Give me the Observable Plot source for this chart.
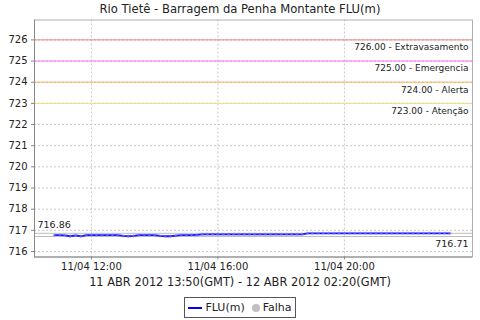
<!DOCTYPE html>
<html>
<head>
<meta charset="utf-8">
<script src="https://cdn.jsdelivr.net/npm/d3@7"></script>
<script src="https://cdn.jsdelivr.net/npm/@observablehq/plot@0.6"></script>
<style>
  html, body { margin: 0; padding: 0; background: #fff; }
  body { width: 480px; height: 320px; overflow: hidden; font-family: "DejaVu Sans", sans-serif; color: #222; }
  #title { height: 19px; line-height: 19px; text-align: center; font-size: 11.6px; }
  #chart svg { display: block; }
  #subtitle { height: 14px; line-height: 14px; text-align: center; font-size: 11.4px; }
  #legend { margin: 8px auto 0 auto; width: 110px; height: 19px; border: 1px solid #555; display: flex; align-items: center; justify-content: center; font-size: 11px; gap: 3px; box-sizing: content-box; }
  #legend .ln { display: inline-block; width: 14px; height: 2px; background: #0000ff; }
  #legend .dt { display: inline-block; width: 8px; height: 8px; border-radius: 50%; background: #c0c0c0; margin-left: 4px; }
</style>
</head>
<body>
<div id="title">Rio Tietê - Barragem da Penha Montante FLU(m)</div>
<div id="chart"></div>
<div id="subtitle">11 ABR 2012 13:50(GMT) - 12 ABR 2012 02:20(GMT)</div>
<div id="legend"><span class="ln"></span><span>FLU(m)</span><span class="dt"></span><span>Falha</span></div>
<script>
// Local times on 11/04/2012
const times = [
  "10:50","11:00","11:10","11:20","11:30","11:40","11:50",
  "12:00","12:10","12:20","12:30","12:40","12:50",
  "13:00","13:10","13:20","13:30","13:40","13:50",
  "14:00","14:10","14:20","14:30","14:40","14:50",
  "15:00","15:10","15:20","15:30","15:40","15:50",
  "16:00","16:10","16:20","16:30","16:40","16:50",
  "17:00","17:10","17:20","17:30","17:40","17:50",
  "18:00","18:10","18:20","18:30","18:40","18:50",
  "19:00","19:10","19:20","19:30","19:40","19:50",
  "20:00","20:10","20:20","20:30","20:40","20:50",
  "21:00","21:10","21:20","21:30","21:40","21:50",
  "22:00","22:10","22:20","22:30","22:40","22:50",
  "23:00","23:10","23:20"
];
const flu = [
  716.77,716.77,716.76,716.72,716.76,716.72,716.77,
  716.77,716.77,716.77,716.77,716.77,716.77,
  716.74,716.72,716.74,716.77,716.77,716.77,
  716.77,716.74,716.72,716.72,716.75,716.77,
  716.77,716.77,716.79,716.81,716.81,716.81,
  716.81,716.81,716.81,716.81,716.81,716.81,
  716.81,716.81,716.81,716.81,716.81,716.81,
  716.81,716.81,716.81,716.81,716.81,716.86,
  716.86,716.86,716.86,716.86,716.86,716.86,
  716.86,716.86,716.86,716.86,716.86,716.86,
  716.86,716.86,716.86,716.86,716.86,716.86,
  716.86,716.86,716.86,716.86,716.86,716.86,
  716.86,716.86,716.86
];
const maxValue = 716.86;
const minValue = 716.71;
const thresholds = [726, 725, 724, 723];
const thresholdNames = ["Extravasamento", "Emergencia", "Alerta", "Atenção"];
const thresholdColors = ["#e98484", "#ff70ff", "#ffae55", "#efe07a"];
const yTicks = [716, 717, 718, 719, 720, 721, 722, 723, 724, 725, 726];
const xTickLabels = ["12:00", "16:00", "20:00"];

const toDate = t => new Date(`2012-04-11T${t}:00Z`);
const data = times.map((t, i) => ({date: toDate(t), v: flu[i]}));
const xTicks = xTickLabels.map(toDate);
const xDomain = [toDate("10:12"), new Date("2012-04-12T00:03:00Z")];
const thrData = thresholds.map((v, i) => ({v, label: `${v.toFixed(2)} - ${thresholdNames[i]}`, color: thresholdColors[i]}));

const plot = Plot.plot({
  width: 480,
  height: 256,
  marginTop: 0.5,
  marginBottom: 18.5,
  marginLeft: 34,
  marginRight: 8,
  style: {fontFamily: "DejaVu Sans", fontSize: "10px", background: "white", color: "#222"},
  x: {type: "utc", domain: xDomain, label: null},
  y: {domain: [715.74, 726.94], label: null},
  marks: [
    Plot.ruleY(yTicks, {stroke: "#c8c8c8", strokeDasharray: "2,2"}),
    Plot.ruleX(xTicks, {stroke: "#c8c8c8", strokeDasharray: "2,2"}),
    ...thrData.map(d => Plot.ruleY([d.v], {stroke: d.color, strokeWidth: 1})),
    Plot.ruleY([maxValue, minValue], {stroke: "#bdbdbd"}),
    Plot.line(data, {x: "date", y: "v", stroke: "#1010ff", strokeWidth: 1.8}),
    Plot.dot(data, {x: "date", y: "v", symbol: "plus", r: 1.2, stroke: "#7a7aff", strokeWidth: 0.6}),
    Plot.text(thrData, {x: xDomain[1], y: "v", text: "label", textAnchor: "end", dx: -4, dy: 7.5, fontSize: 9, fill: "#222"}),
    Plot.text([maxValue], {x: xDomain[0], y: d => d, text: d => d.toFixed(2), textAnchor: "start", dx: 3, dy: -8, fontSize: 9.5, fill: "#222"}),
    Plot.text([minValue], {x: xDomain[1], y: d => d, text: d => d.toFixed(2), textAnchor: "end", dx: -4, dy: 7.5, fontSize: 9.5, fill: "#222"}),
    Plot.frame({stroke: "#b0b0b0"}),
    Plot.ruleX([xDomain[0]], {stroke: "#888"}),
    Plot.ruleY([715.74], {stroke: "#888"}),
    Plot.axisX({ticks: xTicks, tickFormat: d3.utcFormat("%d/%m %H:%M"), tickSize: 3, tickPadding: 3, stroke: "#888"}),
    Plot.axisY({ticks: yTicks, tickFormat: d => String(d), tickSize: 3, tickPadding: 4, stroke: "#888"})
  ]
});
document.getElementById("chart").appendChild(plot);
</script>
</body>
</html>
